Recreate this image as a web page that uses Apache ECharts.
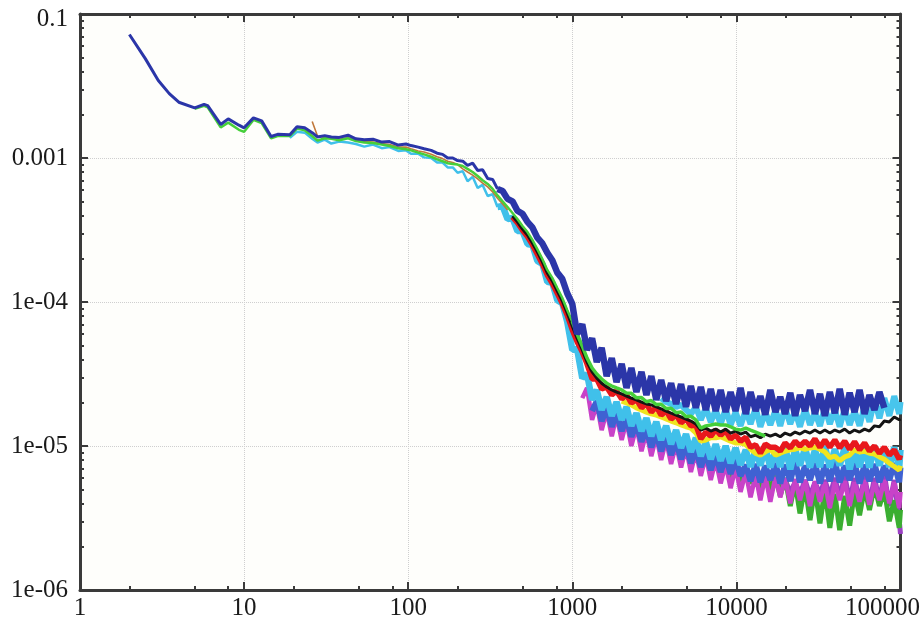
<!DOCTYPE html>
<html>
<head>
<meta charset="utf-8">
<script src="https://cdn.jsdelivr.net/npm/echarts@6/dist/echarts.min.js"></script>
<style>
  html, body { margin: 0; padding: 0; background: #ffffff; }
  #chart { width: 923px; height: 621px; }
</style>
</head>
<body>
<div id="chart"></div>
<script>
// Sample positions (lag), shared by every run
const headX = [2, 2.5, 3, 3.5, 4, 5, 5.7, 6, 7.2, 8,
  9.3, 10, 11.4, 12.8, 14.6, 16, 19, 21, 23.4, 26,
  28, 31, 34, 38, 43, 48, 54, 61, 69, 77,
  87, 97, 104, 115, 125, 138, 150, 162, 174, 187, 200];
const midX = [215, 230, 247, 265, 284, 305, 327, 350, 376, 403,
  432, 463, 497, 533, 571, 612, 657, 704, 755, 810, 868, 931];
const tailX = [1000, 1070, 1150, 1230, 1320, 1410, 1510, 1620, 1740, 1860,
  2000, 2140, 2290, 2460, 2640, 2830, 3030, 3250, 3480, 3730,
  4000, 4290, 4600, 4930, 5280, 5660, 6070, 6510, 6980, 7480,
  8020, 8600, 9220, 9880, 10600, 11400, 12200, 13100, 14000, 15000,
  16100, 17300, 18500, 19800, 21300, 22800, 24400, 26200, 28100, 30100,
  32300, 34600, 37100, 39800, 42600, 45700, 49000, 52500, 56300, 60400,
  64700, 69400, 74400, 79700, 85500, 91600, 98200, 100000];

// Runs: each starts at its first lag and continues along the shared positions
const navy = [7.2e-3, 4.9e-3, 3.45e-3, 2.8e-3, 2.44e-3, 2.23e-3, 2.36e-3, 2.31e-3, 1.71e-3, 1.87e-3,
  1.69e-3, 1.62e-3, 1.9e-3, 1.81e-3, 1.41e-3, 1.46e-3, 1.45e-3, 1.65e-3, 1.62e-3, 1.5e-3,
  1.4e-3, 1.43e-3, 1.4e-3, 1.39e-3, 1.44e-3, 1.36e-3, 1.34e-3, 1.35e-3, 1.29e-3, 1.3e-3,
  1.23e-3, 1.25e-3, 1.22e-3, 1.19e-3, 1.16e-3, 1.13e-3, 1.08e-3, 1.06e-3, 1.0e-3, 1.0e-3, 9.6e-4,
  9.5e-4, 8.9e-4, 9.2e-4, 8.2e-4, 8.3e-4, 7.2e-4, 7.1e-4, 6.1e-4, 5.9e-4, 5.2e-4,
  5.0e-4, 4.3e-4, 4.1e-4, 3.6e-4, 3.3e-4, 2.8e-4, 2.55e-4, 2.2e-4, 1.95e-4, 1.6e-4, 1.45e-4, 1.15e-4,
  9.7e-5, 6.0e-5, 7.0e-5, 4.65e-5, 5.6e-5, 3.83e-5, 4.8e-5, 3.06e-5, 4.08e-5, 2.78e-5,
  3.71e-5, 2.53e-5, 3.48e-5, 2.37e-5, 3.27e-5, 2.26e-5, 3.06e-5, 2.09e-5, 2.87e-5, 2.05e-5,
  2.73e-5, 1.96e-5, 2.69e-5, 1.87e-5, 2.61e-5, 1.84e-5, 2.57e-5, 1.78e-5, 2.49e-5, 1.75e-5,
  2.45e-5, 1.72e-5, 2.37e-5, 1.75e-5, 2.53e-5, 1.67e-5, 2.37e-5, 1.75e-5, 2.22e-5, 1.65e-5,
  2.45e-5, 1.72e-5, 2.19e-5, 1.67e-5, 2.34e-5, 1.62e-5, 2.26e-5, 1.75e-5, 2.45e-5, 1.67e-5,
  2.30e-5, 1.62e-5, 2.37e-5, 1.69e-5, 2.49e-5, 1.65e-5, 2.34e-5, 1.72e-5, 2.45e-5, 1.67e-5,
  2.26e-5, 1.78e-5, 2.37e-5, 1.84e-5];
const lime = [2.2e-3, 2.3e-3, 2.25e-3, 1.63e-3, 1.76e-3, 1.57e-3, 1.52e-3, 1.84e-3, 1.75e-3, 1.37e-3,
  1.42e-3, 1.42e-3, 1.6e-3, 1.56e-3, 1.42e-3, 1.32e-3, 1.37e-3, 1.36e-3, 1.33e-3, 1.37e-3,
  1.31e-3, 1.28e-3, 1.27e-3, 1.24e-3, 1.21e-3, 1.17e-3, 1.15e-3, 1.13e-3, 1.09e-3, 1.06e-3,
  1.02e-3, 9.8e-4, 9.5e-4, 9.2e-4, 9.1e-4, 9.0e-4,
  8.8e-4, 8.4e-4, 8.0e-4, 7.5e-4, 7.0e-4, 6.6e-4, 6.1e-4, 5.5e-4, 5.0e-4, 4.57e-4,
  4.15e-4, 3.77e-4, 3.37e-4, 3.06e-4, 2.7e-4, 2.33e-4, 1.99e-4, 1.67e-4, 1.47e-4, 1.25e-4, 1.07e-4, 8.8e-5,
  7.3e-5, 6.0e-5, 4.95e-5, 4.08e-5, 3.48e-5, 3.16e-5, 2.92e-5, 2.73e-5, 2.61e-5, 2.53e-5,
  2.45e-5, 2.33e-5, 2.32e-5, 2.16e-5, 2.17e-5, 2.03e-5, 2.07e-5, 1.94e-5, 1.95e-5, 1.82e-5,
  1.83e-5, 1.70e-5, 1.72e-5, 1.60e-5, 1.61e-5, 1.52e-5, 1.33e-5, 1.38e-5, 1.40e-5, 1.42e-5,
  1.40e-5, 1.40e-5, 1.36e-5, 1.31e-5, 1.29e-5, 1.33e-5, 1.29e-5, 1.25e-5, 1.21e-5, 1.17e-5];
const skyLower = [1.38e-3, 1.52e-3, 1.50e-3, 1.36e-3, 1.28e-3, 1.34e-3, 1.26e-3, 1.30e-3, 1.28e-3, 1.25e-3,
  1.20e-3, 1.24e-3, 1.17e-3, 1.19e-3, 1.12e-3, 1.13e-3, 1.07e-3, 1.07e-3, 1.01e-3, 1.0e-3,
  9.3e-4, 9.3e-4, 8.6e-4, 8.6e-4, 7.9e-4,
  8.1e-4, 6.9e-4, 7.4e-4, 6.2e-4, 6.5e-4, 5.45e-4, 5.6e-4, 4.57e-4, 4.64e-4, 3.77e-4,
  3.83e-4, 3.11e-4, 3.11e-4, 2.53e-4, 2.49e-4, 1.93e-4, 1.84e-4, 1.38e-4, 1.36e-4, 1.03e-4, 9.8e-5, 7.3e-5,
  4.65e-5, 4.72e-5, 2.96e-5, 3.16e-5, 2.09e-5, 2.45e-5, 1.78e-5, 2.19e-5, 1.62e-5, 2.02e-5,
  1.52e-5, 1.87e-5, 1.38e-5, 1.69e-5, 1.27e-5, 1.56e-5, 1.17e-5, 1.47e-5, 1.10e-5, 1.38e-5,
  1.03e-5, 1.29e-5, 9.7e-6, 1.21e-5, 9.1e-6, 1.14e-5, 8.5e-6, 1.07e-5, 8.1e-6, 1.03e-5,
  7.9e-6, 1.0e-5, 7.6e-6, 9.7e-6, 7.4e-6, 9.4e-6, 7.15e-6, 9.5e-6, 7.3e-6, 9.7e-6,
  7.1e-6, 9.4e-6, 7.15e-6, 9.8e-6, 6.9e-6, 9.5e-6, 7.3e-6, 9.7e-6, 7.1e-6, 9.4e-6,
  7.15e-6, 1.0e-5, 7.1e-6, 9.5e-6, 7.3e-6, 9.8e-6, 6.9e-6, 9.4e-6, 7.15e-6, 9.7e-6,
  7.1e-6, 1.0e-5, 7.3e-6, 9.5e-6, 7.15e-6, 9.8e-6, 7.1e-6, 9.4e-6];
const amber = [1.79e-3, 1.42e-3, 1.39e-3, 1.38e-3, 1.35e-3, 1.38e-3, 1.32e-3, 1.3e-3, 1.29e-3, 1.26e-3,
  1.24e-3, 1.19e-3, 1.19e-3, 1.16e-3, 1.12e-3, 1.1e-3, 1.06e-3, 1.02e-3, 9.9e-4, 9.5e-4, 9.3e-4, 9.0e-4,
  8.4e-4, 8.0e-4, 7.6e-4, 7.15e-4, 6.7e-4, 6.3e-4, 5.8e-4, 5.25e-4, 4.8e-4, 4.35e-4];
const red = [3.9e-4, 3.55e-4, 3.15e-4, 2.85e-4, 2.5e-4, 2.15e-4, 1.84e-4, 1.54e-4, 1.35e-4, 1.15e-4, 9.8e-5, 8.1e-5,
  6.4e-5, 5.3e-5, 4.5e-5, 3.71e-5, 2.92e-5, 2.92e-5, 2.49e-5, 2.57e-5, 2.26e-5, 2.41e-5,
  2.12e-5, 2.26e-5, 1.99e-5, 2.09e-5, 1.84e-5, 1.96e-5, 1.72e-5, 1.87e-5, 1.64e-5, 1.75e-5,
  1.54e-5, 1.64e-5, 1.45e-5, 1.54e-5, 1.38e-5, 1.40e-5, 1.12e-5, 1.25e-5, 1.17e-5, 1.29e-5,
  1.19e-5, 1.27e-5, 1.12e-5, 1.19e-5, 1.08e-5, 1.15e-5, 9.8e-6, 1.02e-5, 8.9e-6, 1.03e-5,
  9.8e-6, 9.8e-6, 9.2e-6, 1.05e-5, 9.7e-6, 1.08e-5, 1.0e-5, 1.08e-5, 1.0e-5, 1.12e-5,
  9.8e-6, 1.1e-5, 9.8e-6, 1.1e-5, 9.7e-6, 1.08e-5, 9.5e-6, 1.07e-5, 9.4e-6, 1.05e-5,
  9.2e-6, 1.0e-5, 8.9e-6, 9.8e-6, 8.65e-6, 9.4e-6, 8.1e-6, 8.65e-6];
const black = [3.95e-4, 3.6e-4, 3.21e-4, 2.92e-4, 2.57e-4, 2.23e-4, 1.9e-4, 1.59e-4, 1.4e-4, 1.19e-4, 1.02e-4, 8.4e-5,
  6.8e-5, 5.6e-5, 4.65e-5, 3.83e-5, 3.27e-5, 2.96e-5, 2.73e-5, 2.57e-5, 2.45e-5, 2.37e-5,
  2.30e-5, 2.22e-5, 2.15e-5, 2.09e-5, 2.02e-5, 1.96e-5, 1.93e-5, 1.87e-5, 1.81e-5, 1.75e-5,
  1.69e-5, 1.64e-5, 1.59e-5, 1.54e-5, 1.49e-5, 1.42e-5, 1.29e-5, 1.33e-5, 1.27e-5, 1.31e-5,
  1.25e-5, 1.31e-5, 1.23e-5, 1.27e-5, 1.21e-5, 1.25e-5, 1.16e-5, 1.19e-5, 1.14e-5, 1.21e-5,
  1.17e-5, 1.21e-5, 1.16e-5, 1.23e-5, 1.19e-5, 1.25e-5, 1.21e-5, 1.27e-5, 1.23e-5, 1.29e-5,
  1.23e-5, 1.29e-5, 1.23e-5, 1.29e-5, 1.25e-5, 1.31e-5, 1.23e-5, 1.29e-5, 1.25e-5, 1.31e-5,
  1.27e-5, 1.38e-5, 1.36e-5, 1.49e-5, 1.47e-5, 1.59e-5, 1.52e-5, 1.54e-5];
const magenta = [2.15e-5, 2.53e-5, 1.52e-5, 1.96e-5, 1.29e-5, 1.75e-5, 1.17e-5, 1.62e-5, 1.10e-5, 1.49e-5,
  1.0e-5, 1.36e-5, 9.2e-6, 1.25e-5, 8.5e-6, 1.17e-5, 8.0e-6, 1.10e-5, 7.5e-6, 1.03e-5,
  7.1e-6, 9.7e-6, 6.6e-6, 9.1e-6, 6.2e-6, 8.5e-6, 5.8e-6, 8.0e-6, 5.5e-6, 7.5e-6,
  5.1e-6, 7.1e-6, 4.8e-6, 6.6e-6, 4.4e-6, 6.3e-6, 4.2e-6, 6.2e-6, 4.1e-6, 6.1e-6,
  4.4e-6, 6.0e-6, 4.0e-6, 5.9e-6, 4.2e-6, 5.8e-6, 3.83e-6, 5.7e-6, 4.1e-6, 5.6e-6,
  3.7e-6, 5.6e-6, 4.2e-6, 5.7e-6, 3.83e-6, 5.6e-6, 4.1e-6, 5.8e-6, 3.9e-6, 5.6e-6,
  4.2e-6, 5.8e-6, 4.0e-6, 5.6e-6, 3.7e-6, 4.8e-6];
const royal = [1.75e-5, 2.05e-5, 1.49e-5, 1.84e-5, 1.36e-5, 1.69e-5, 1.27e-5, 1.56e-5, 1.16e-5, 1.42e-5,
  1.07e-5, 1.31e-5, 9.8e-6, 1.23e-5, 9.2e-6, 1.16e-5, 8.65e-6, 1.08e-5, 8.1e-6, 1.02e-5,
  7.6e-6, 9.5e-6, 7.15e-6, 8.9e-6, 6.8e-6, 8.65e-6, 6.6e-6, 8.4e-6, 6.4e-6, 8.1e-6,
  6.2e-6, 7.4e-6, 5.7e-6, 7.5e-6, 5.6e-6, 7.3e-6, 5.8e-6, 7.6e-6, 5.5e-6, 7.4e-6,
  5.7e-6, 7.8e-6, 5.6e-6, 7.3e-6, 5.8e-6, 7.6e-6, 5.5e-6, 7.4e-6, 5.7e-6, 7.8e-6,
  5.6e-6, 7.3e-6, 5.8e-6, 7.6e-6, 5.5e-6, 7.4e-6, 5.7e-6, 7.5e-6, 5.6e-6, 7.3e-6,
  5.8e-6, 7.6e-6, 5.6e-6, 7.1e-6];
const yellow = [2.05e-5, 1.99e-5, 1.93e-5, 1.84e-5, 1.78e-5, 1.72e-5, 1.67e-5, 1.64e-5, 1.59e-5, 1.54e-5,
  1.49e-5, 1.45e-5, 1.40e-5, 1.36e-5, 1.33e-5, 1.23e-5, 1.08e-5, 1.10e-5, 1.14e-5, 1.14e-5,
  1.16e-5, 1.12e-5, 1.08e-5, 1.05e-5, 1.05e-5, 1.02e-5, 9.5e-6, 8.9e-6, 8.65e-6, 9.1e-6,
  9.5e-6, 8.65e-6, 8.9e-6, 9.2e-6, 9.4e-6, 9.5e-6, 9.7e-6, 9.5e-6, 9.7e-6, 9.8e-6,
  9.5e-6, 9.1e-6, 8.3e-6, 8.5e-6, 7.9e-6, 8.4e-6, 8.65e-6, 9.4e-6, 9.1e-6, 9.2e-6,
  8.9e-6, 8.8e-6, 8.4e-6, 8.1e-6, 7.6e-6, 7.2e-6, 6.8e-6, 7.3e-6];
const skyUpper = [2.15e-5, 2.02e-5, 1.96e-5, 1.87e-5, 1.93e-5, 1.78e-5, 1.67e-5, 1.87e-5, 1.52e-5, 1.84e-5,
  1.47e-5, 1.78e-5, 1.42e-5, 1.81e-5, 1.40e-5, 1.72e-5, 1.38e-5, 1.78e-5, 1.42e-5, 1.84e-5,
  1.36e-5, 1.72e-5, 1.40e-5, 1.78e-5, 1.38e-5, 1.84e-5, 1.42e-5, 1.75e-5, 1.36e-5, 1.81e-5,
  1.40e-5, 1.72e-5, 1.38e-5, 1.84e-5, 1.42e-5, 1.78e-5, 1.36e-5, 1.81e-5, 1.40e-5, 1.75e-5,
  1.38e-5, 1.90e-5, 1.47e-5, 2.09e-5, 1.56e-5, 2.15e-5, 1.62e-5, 2.22e-5, 1.67e-5, 2.02e-5];
const greenLow = [6.8e-6, 7.8e-6, 6.2e-6, 7.3e-6, 5.8e-6, 7.1e-6, 5.6e-6, 6.8e-6, 5.5e-6, 6.6e-6,
  5.1e-6, 6.4e-6, 4.95e-6, 6.2e-6, 4.5e-6, 6.0e-6, 3.83e-6, 5.6e-6, 3.4e-6, 5.3e-6,
  3.06e-6, 5.1e-6, 2.9e-6, 4.95e-6, 2.7e-6, 4.65e-6, 2.6e-6, 4.5e-6, 2.8e-6, 4.8e-6,
  3.3e-6, 5.1e-6, 3.6e-6, 5.3e-6, 3.83e-6, 4.95e-6, 3.0e-6, 4.2e-6, 2.7e-6, 3.6e-6];
const purple = [5.3e-6, 6.0e-6, 4.95e-6, 5.8e-6, 4.8e-6, 5.6e-6, 4.65e-6, 5.8e-6, 4.5e-6, 5.6e-6,
  4.65e-6, 5.8e-6, 4.5e-6, 6.0e-6, 4.4e-6, 6.2e-6, 4.2e-6, 6.0e-6, 4.1e-6, 6.2e-6,
  4.0e-6, 6.0e-6, 4.2e-6, 6.4e-6, 3.83e-6, 5.8e-6, 3.06e-6, 2.45e-6];

// Axis tick labels and minor tick values
const xTickLabels = ['1', '10', '100', '1000', '10000', '100000'];
const yTickLabels = ['1e-06', '1e-05', '1e-04', '0.001', '0.1'];
const xMinorTicks = [2, 5, 8, 20, 50, 80, 200, 500, 800, 2000, 5000, 8000, 20000, 50000, 80000];
const yMinorTicks = [2e-6, 3e-6, 4e-6, 5e-6, 6e-6, 7e-6, 8e-6, 9e-6,
  2e-5, 3e-5, 4e-5, 5e-5, 6e-5, 7e-5, 8e-5, 9e-5,
  2e-4, 3e-4, 4e-4, 5e-4, 6e-4, 7e-4, 8e-4, 9e-4,
  2e-3, 3e-3, 4e-3, 5e-3, 6e-3, 7e-3, 8e-3, 9e-3];

const xs = headX.concat(midX, tailX);

// Painting order: first listed is painted first (lowest).
// Beyond `wideFrom` a run is stroked wider, where its noise forms a band.
const runs = [
  { values: purple,   from: 16100, color: '#9b40c4', width: 5 },
  { values: greenLow, from: 6980,  color: '#3aae30', width: 5 },
  { values: magenta,  from: 1150,  color: '#c842c8', width: 4.5 },
  { values: royal,    from: 1320,  color: '#3f62d2', width: 6 },
  { values: skyLower, from: 19,    color: '#40c0ea', width: 2.5, wideFrom: 350, wideWidth: 6.5 },
  { values: yellow,   from: 2000,  color: '#f0e41e', width: 5 },
  { values: skyUpper, from: 3480,  color: '#48c5ec', width: 6 },
  { values: amber,    from: 26,    color: '#c0783a', width: 1.6 },
  { values: red,      from: 432,   color: '#e8181c', width: 5.5 },
  { values: black,    from: 432,   color: '#141414', width: 3 },
  { values: lime,     from: 5,     color: '#46cf3a', width: 2.5, wideFrom: 1000, wideWidth: 3.5 },
  { values: navy,     from: 2,     color: '#2b36a8', width: 3, wideFrom: 350, wideWidth: 6.5 }
];

const FONT = "'Liberation Serif', 'Times New Roman', Times, serif";
const FONT_SIZE = 25;
const AXIS_COLOR = '#3a3a3a';
const LABEL_COLOR = '#1a1a1a';

function lineSeries(points, color, width) {
  return {
    type: 'line',
    xAxisIndex: 0,
    yAxisIndex: 0,
    showSymbol: false,
    symbol: 'none',
    clip: true,
    lineStyle: { color: color, width: width },
    data: points
  };
}

const series = [];
runs.forEach(run => {
  const s = xs.indexOf(run.from);
  const pts = run.values.map((v, k) => [xs[s + k], v]);
  if (run.wideFrom) {
    series.push(lineSeries(pts.filter(p => p[0] <= run.wideFrom), run.color, run.width));
    series.push(lineSeries(pts.filter(p => p[0] >= run.wideFrom), run.color, run.wideWidth));
  } else {
    series.push(lineSeries(pts, run.color, run.width));
  }
});

function frameAxis(kind, position, opts) {
  const isX = kind === 'x';
  const base = {
    type: 'log',
    logBase: 10,
    position: position,
    min: isX ? 1 : 1e-6,
    max: isX ? 1e5 : 1e-2,
    axisLine: { show: !!opts.line, lineStyle: { color: AXIS_COLOR, width: 3 } },
    axisTick: {
      show: true, inside: true, length: opts.minor ? 4 : 8,
      lineStyle: { color: AXIS_COLOR, width: 2 }
    },
    axisLabel: { show: false },
    splitLine: { show: false },
    minorTick: { show: false },
    minorSplitLine: { show: false }
  };
  if (opts.minor) base.axisTick.customValues = isX ? xMinorTicks : yMinorTicks;
  return base;
}

const gridLine = { show: true, lineStyle: { color: '#cfcfcf', width: 1, type: 'dotted' } };

const xMain = frameAxis('x', 'bottom', { line: true });
xMain.axisLabel = {
  show: true, margin: 6, color: LABEL_COLOR, fontFamily: FONT, fontSize: FONT_SIZE,
  formatter: v => {
    const k = Math.round(Math.log10(v));
    const s = xTickLabels[k];
    return k === xTickLabels.length - 1 ? '{last|' + s + '}' : s;
  },
  rich: { last: { fontFamily: FONT, fontSize: FONT_SIZE, color: LABEL_COLOR, padding: [0, 36, 0, 0] } }
};
xMain.splitLine = gridLine;

const yMain = frameAxis('y', 'left', { line: true });
yMain.axisLabel = {
  show: true, margin: 12, color: LABEL_COLOR, fontFamily: FONT, fontSize: FONT_SIZE,
  formatter: v => {
    const k = Math.round(Math.log10(v)) + 6;
    const s = yTickLabels[k];
    return k === yTickLabels.length - 1 ? '{top|' + s + '}' : s;
  },
  rich: { top: { fontFamily: FONT, fontSize: FONT_SIZE, color: LABEL_COLOR, padding: [10, 0, 0, 0] } }
};
yMain.splitLine = gridLine;

const chart = echarts.init(document.getElementById('chart'), null, { renderer: 'canvas' });
chart.setOption({
  animation: false,
  backgroundColor: '#ffffff',
  grid: {
    left: 80, right: 18, top: 14, bottom: 31,
    show: true, backgroundColor: '#fefefb', borderWidth: 0
  },
  xAxis: [
    xMain,
    frameAxis('x', 'bottom', { minor: true }),
    frameAxis('x', 'top', { line: true }),
    frameAxis('x', 'top', { minor: true })
  ],
  yAxis: [
    yMain,
    frameAxis('y', 'left', { minor: true }),
    frameAxis('y', 'right', { line: true }),
    frameAxis('y', 'right', { minor: true })
  ],
  series: series
});
</script>
</body>
</html>
